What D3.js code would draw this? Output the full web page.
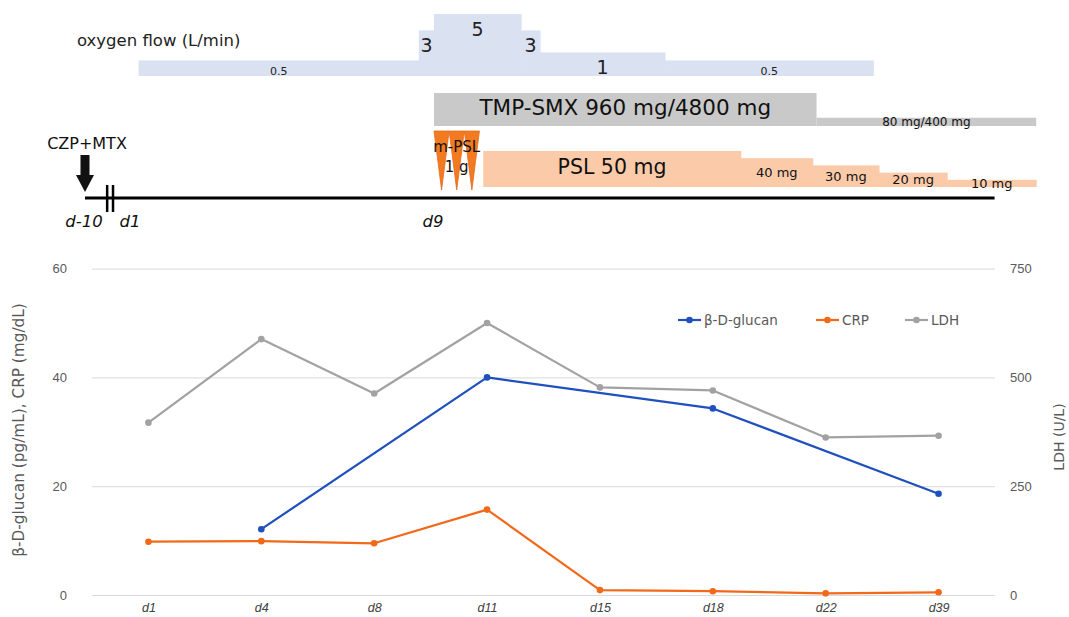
<!DOCTYPE html>
<html>
<head>
<meta charset="utf-8">
<script src="https://cdn.jsdelivr.net/npm/d3@7"></script>
<style>
  body { margin: 0; background: #fff; }
  svg { display: block; font-family: "DejaVu Sans", "Noto Sans", sans-serif; }
  .grid line { stroke: #d9d9d9; }
  .grid .domain { display: none; }
  .tick-lbl text { fill: #595959; font-size: 13px; }
  .xlbl text { fill: #404040; font-size: 12.5px; font-style: italic; }
</style>
</head>
<body>
<svg id="chart" width="1069" height="617"></svg>
<script>
// ---- lab values (bottom chart) ----
var days = ['d1', 'd4', 'd8', 'd11', 'd15', 'd18', 'd22', 'd39'];
var glucan = [null, 12.1, null, 40.0, null, 34.3, null, 18.6];
var crp = [9.8, 9.9, 9.5, 15.7, 0.9, 0.7, 0.3, 0.5];
var ldh = [396, 588, 463, 625, 477, 470, 362, 366];
var leftTicks = [0, 20, 40, 60];
var rightTicks = [0, 250, 500, 750];

// ---- treatment timeline (top schematic, in days) ----
var tlDays = [-10, 1, 9];
var tlLabels = ['d-10', 'd1', 'd9'];
var o2Start = [1.2, 8.6, 9.0, 11.3, 11.8, 15.1];
var o2End = [8.6, 9.0, 11.3, 11.8, 15.1, 20.6];
var o2Flow = [0.5, 3, 5, 3, 1, 0.5];
var tmpStart = [9, 19.1];
var tmpEnd = [19.1, 24.9];
var tmpLevel = [1, 0.25];
var tmpLabels = ['TMP-SMX 960 mg/4800 mg', '80 mg/400 mg'];
var mpslDays = [9, 9.4, 9.8];
var pslStart = [10.3, 17.1, 19.0, 20.75, 22.55];
var pslEnd = [17.1, 19.0, 20.75, 22.55, 24.9];
var pslDose = [50, 40, 30, 20, 10];
var pslLabels = ['PSL 50 mg', '40 mg', '30 mg', '20 mg', '10 mg'];

var svg = d3.select('#chart');

// timeline x: broken axis between d-10 and d1
var tx = d3.scaleLinear().domain([-10, 1, 9]).range([85, 131, 434]);
var o2y = d3.scalePow().exponent(0.6).domain([0, 5]).range([76, 14]);
var tmpH = d3.scaleLinear().domain([0, 1]).range([126, 93]);
var pslY = d3.scaleLinear().domain([0, 50]).range([187, 151]);

var tl = svg.append('g').attr('class', 'timeline');

// oxygen flow
tl.append('text').attr('x', 77).attr('y', 46).attr('font-size', 16.5).attr('fill', '#222')
  .text('oxygen flow (L/min)');
var o2 = o2Flow.map(function(f, i) { return {s: o2Start[i], e: o2End[i], f: f}; });
tl.selectAll('rect.o2').data(o2).enter().append('rect').attr('class', 'o2')
  .attr('x', function(d) { return tx(d.s); })
  .attr('width', function(d) { return tx(d.e) - tx(d.s) + 0.5; })
  .attr('y', function(d) { return o2y(d.f); })
  .attr('height', function(d) { return o2y(0) - o2y(d.f); })
  .attr('fill', '#dae1f1');
tl.selectAll('text.o2').data(o2).enter().append('text').attr('class', 'o2')
  .attr('x', function(d) { return (tx(d.s) + tx(d.e)) / 2; })
  .attr('y', function(d) { return o2y(d.f) + (d.f < 1 ? 15 : 22); })
  .attr('text-anchor', 'middle').attr('fill', '#222')
  .attr('font-size', function(d) { return d.f < 1 ? 11 : 19; })
  .text(function(d) { return d.f; });

// TMP-SMX
var tmp = tmpLevel.map(function(l, i) { return {s: tmpStart[i], e: tmpEnd[i], l: l, t: tmpLabels[i]}; });
tl.selectAll('rect.tmp').data(tmp).enter().append('rect').attr('class', 'tmp')
  .attr('x', function(d) { return tx(d.s); })
  .attr('width', function(d) { return tx(d.e) - tx(d.s); })
  .attr('y', function(d) { return tmpH(d.l); })
  .attr('height', function(d) { return tmpH(0) - tmpH(d.l); })
  .attr('fill', '#c9c9c9');
tl.selectAll('text.tmp').data(tmp).enter().append('text').attr('class', 'tmp')
  .attr('x', function(d) { return (tx(d.s) + tx(d.e)) / 2; })
  .attr('y', function(d) { return (tmpH(d.l) + tmpH(0)) / 2 - (d.l > 0.5 ? 2 : 0); })
  .attr('dy', '0.35em').attr('text-anchor', 'middle').attr('fill', '#111')
  .attr('font-size', function(d) { return d.l > 0.5 ? 21.5 : 12; })
  .text(function(d) { return d.t; });

// PSL
var psl = pslDose.map(function(v, i) { return {s: pslStart[i], e: pslEnd[i], v: v, t: pslLabels[i]}; });
tl.selectAll('rect.psl').data(psl).enter().append('rect').attr('class', 'psl')
  .attr('x', function(d) { return tx(d.s); })
  .attr('width', function(d) { return tx(d.e) - tx(d.s) + 0.5; })
  .attr('y', function(d) { return pslY(d.v); })
  .attr('height', function(d) { return pslY(0) - pslY(d.v); })
  .attr('fill', '#fbcba9');
tl.selectAll('text.psl').data(psl).enter().append('text').attr('class', 'psl')
  .attr('x', function(d) { return (tx(d.s) + tx(d.e)) / 2; })
  .attr('y', function(d) { return (pslY(d.v) + pslY(0)) / 2 - (d.v === 50 ? 2 : 0); })
  .attr('dy', '0.35em').attr('text-anchor', 'middle').attr('fill', '#111')
  .attr('font-size', function(d) { return d.v === 50 ? 20.5 : 13; })
  .text(function(d) { return d.t; });

// m-PSL pulse triangles
tl.selectAll('path.mpsl').data(mpslDays).enter().append('path').attr('class', 'mpsl')
  .attr('d', function(d) {
    var a = tx(d), b = tx(d + 0.4);
    return 'M' + a + ',131L' + b + ',131L' + (a + b) / 2 + ',190Z';
  })
  .attr('fill', '#f27a20').attr('stroke', '#e8691a').attr('stroke-width', 0.8);
tl.append('text').attr('x', tx(9.6)).attr('y', 152).attr('text-anchor', 'middle')
  .attr('font-size', 15).attr('fill', '#111').text('m-PSL');
tl.append('text').attr('x', tx(9.6)).attr('y', 172).attr('text-anchor', 'middle')
  .attr('font-size', 15).attr('fill', '#111').text('1 g');

// timeline axis
tl.append('line').attr('x1', tx(-10)).attr('x2', tx(23.8)).attr('y1', 198).attr('y2', 198)
  .attr('stroke', '#000').attr('stroke-width', 3);
[-4.7, -3.3].forEach(function(d) {
  tl.append('line').attr('x1', tx(d)).attr('x2', tx(d)).attr('y1', 185).attr('y2', 212)
    .attr('stroke', '#000').attr('stroke-width', 2.5);
});
tl.selectAll('text.tl').data(tlDays).enter().append('text').attr('class', 'tl')
  .attr('x', function(d) { return tx(d) - 1; }).attr('y', 227)
  .attr('text-anchor', 'middle').attr('font-size', 16.5).attr('font-style', 'italic').attr('fill', '#111')
  .text(function(d, i) { return tlLabels[i]; });

// CZP+MTX arrow
var ax = tx(-10);
tl.append('path')
  .attr('d', 'M' + (ax - 4.5) + ',155H' + (ax + 4.5) + 'V175H' + (ax + 9) + 'L' + ax + ',192L' + (ax - 9) + ',175H' + (ax - 4.5) + 'Z')
  .attr('fill', '#111');
tl.append('text').attr('x', ax + 2).attr('y', 149).attr('text-anchor', 'middle')
  .attr('font-size', 16).attr('fill', '#111').text('CZP+MTX');

// ---- lab chart ----
var x = d3.scalePoint().domain(days).range([92, 995]).padding(0.5);
var yL = d3.scaleLinear().domain([0, 60]).range([595, 268.6]);
var yR = d3.scaleLinear().domain([0, 750]).range([595, 268.6]);

svg.append('g').attr('class', 'grid').attr('transform', 'translate(92,0)')
  .call(d3.axisLeft(yL).tickValues(leftTicks).tickSize(-903).tickFormat(''));
svg.append('g').attr('class', 'tick-lbl').attr('transform', 'translate(92,0)')
  .call(d3.axisLeft(yL).tickValues(leftTicks).tickSize(0).tickPadding(25))
  .call(function(g) { g.select('.domain').remove(); });
svg.append('g').attr('class', 'tick-lbl').attr('transform', 'translate(995,0)')
  .call(d3.axisRight(yR).tickValues(rightTicks).tickSize(0).tickPadding(15))
  .call(function(g) { g.select('.domain').remove(); });
svg.append('g').attr('class', 'xlbl').attr('transform', 'translate(0,595)')
  .call(d3.axisBottom(x).tickSize(0).tickPadding(8))
  .call(function(g) { g.select('.domain').remove(); });

svg.append('text').attr('transform', 'translate(24,430) rotate(-90)').attr('text-anchor', 'middle')
  .attr('font-size', 15.3).attr('fill', '#595959').text('β-D-glucan (pg/mL), CRP (mg/dL)');
svg.append('text').attr('transform', 'translate(1064,437) rotate(-90)').attr('text-anchor', 'middle')
  .attr('font-size', 14).attr('fill', '#595959').text('LDH (U/L)');

var series = [
  {name: 'β-D-glucan', vals: glucan, y: yL, color: '#1f50bd'},
  {name: 'CRP', vals: crp, y: yL, color: '#f2691a'},
  {name: 'LDH', vals: ldh, y: yR, color: '#a2a2a2'}
];

series.forEach(function(s) {
  var pts = days.map(function(d, i) { return {d: d, v: s.vals[i]}; })
    .filter(function(p) { return p.v !== null; });
  var line = d3.line().x(function(p) { return x(p.d); }).y(function(p) { return s.y(p.v); });
  svg.append('path').datum(pts).attr('d', line).attr('fill', 'none')
    .attr('stroke', s.color).attr('stroke-width', 2.2).attr('stroke-linejoin', 'round');
  svg.append('g').selectAll('circle').data(pts).enter().append('circle')
    .attr('cx', function(p) { return x(p.d); }).attr('cy', function(p) { return s.y(p.v); })
    .attr('r', 3.3).attr('fill', s.color);
});

// legend
var legX = [678, 816, 905];
var leg = svg.append('g').selectAll('g').data(series).enter().append('g')
  .attr('transform', function(d, i) { return 'translate(' + legX[i] + ',320)'; });
leg.append('line').attr('x1', 0).attr('x2', 23).attr('stroke', function(d) { return d.color; }).attr('stroke-width', 2.2);
leg.append('circle').attr('cx', 11.5).attr('r', 3.3).attr('fill', function(d) { return d.color; });
leg.append('text').attr('x', 26).attr('dy', '0.35em').attr('font-size', 13.5).attr('fill', '#595959')
  .text(function(d) { return d.name; });
</script>
</body>
</html>
